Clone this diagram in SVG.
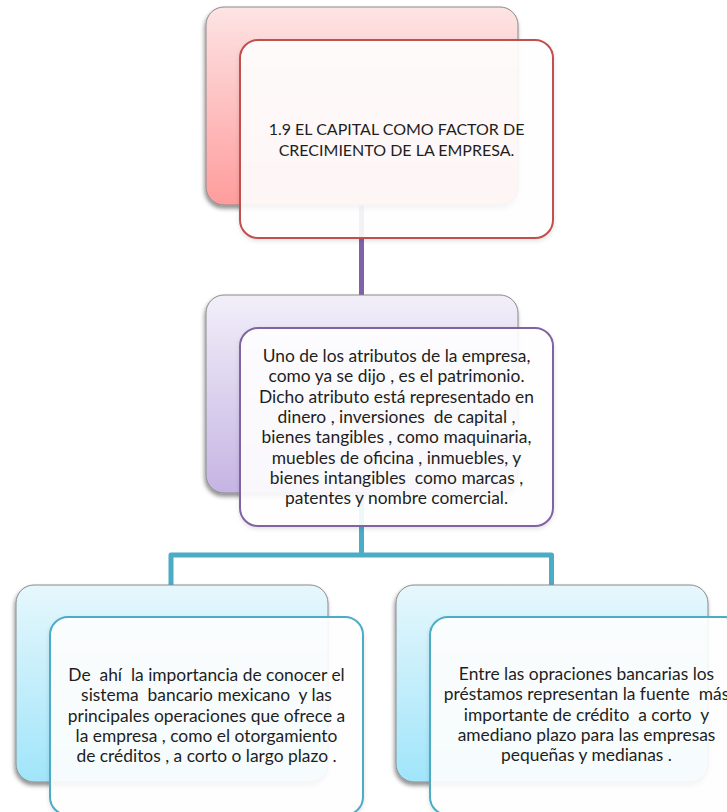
<svg xmlns="http://www.w3.org/2000/svg" width="727" height="812" viewBox="0 0 727 812">
<defs>
<linearGradient id="gRed" x1="0" y1="0" x2="0" y2="1">
<stop offset="0" stop-color="#fde4e4"/><stop offset="1" stop-color="#ff9c9c"/>
</linearGradient>
<linearGradient id="gPur" x1="0" y1="0" x2="0" y2="1">
<stop offset="0" stop-color="#f2eff9"/><stop offset="1" stop-color="#c5b4e3"/>
</linearGradient>
<linearGradient id="gCyan" x1="0" y1="0" x2="0" y2="1">
<stop offset="0" stop-color="#e6f7fc"/><stop offset="1" stop-color="#a0e5fa"/>
</linearGradient>
<filter id="sh" x="-10%" y="-10%" width="120%" height="125%">
<feDropShadow dx="-1" dy="3" stdDeviation="2" flood-color="#000" flood-opacity="0.45"/>
</filter>
<filter id="sh2" x="-10%" y="-10%" width="120%" height="125%">
<feDropShadow dx="0" dy="2" stdDeviation="2" flood-color="#000" flood-opacity="0.12"/>
</filter>
</defs>
<style>
.back{stroke:#8a8a8a;stroke-width:1;filter:url(#sh)}
.front{fill:#fff;fill-opacity:0.9;stroke-width:2;filter:url(#sh2)}
.t{font-family:Lato,"Liberation Sans",sans-serif;font-size:17.4px;fill:#1e1e1e;text-anchor:middle;white-space:pre}
.h{font-size:16px}
.conn{fill:none;stroke-width:5;stroke-linejoin:round}
</style>
<g id="connectors">
<line class="conn" x1="361.5" y1="205" x2="361.5" y2="296" stroke="#7f63a6"/>
<path class="conn" d="M361.5 493 V555 M171 585 V555 H551.5 V585" stroke="#4bacc6"/>
</g>
<g id="node-title">
<rect class="back" x="206" y="7" width="312" height="198" rx="18" fill="url(#gRed)"/>
<rect class="front" x="240" y="40" width="313" height="198" rx="18" stroke="#c0504d"/>
<text class="t h" x="396.5" y="135">1.9 EL CAPITAL COMO FACTOR DE</text>
<text class="t h" x="396.5" y="155.5">CRECIMIENTO DE LA EMPRESA.</text>
</g>
<g id="node-patrimonio">
<rect class="back" x="206" y="295" width="312" height="198" rx="18" fill="url(#gPur)"/>
<rect class="front" x="240" y="328" width="313" height="198" rx="18" stroke="#8064a2"/>
<text class="t" x="396.5" y="362">Uno de los atributos de la empresa,</text>
<text class="t" x="396.5" y="382.3">como ya se dijo , es el patrimonio.</text>
<text class="t" x="396.5" y="402.6">Dicho atributo está representado en</text>
<text class="t" x="396.5" y="422.9">dinero , inversiones  de capital ,</text>
<text class="t" x="396.5" y="443.2">bienes tangibles , como maquinaria,</text>
<text class="t" x="396.5" y="463.5">muebles de oficina , inmuebles, y</text>
<text class="t" x="396.5" y="483.8">bienes intangibles  como marcas ,</text>
<text class="t" x="396.5" y="504.1">patentes y nombre comercial.</text>
</g>
<g id="node-sistema">
<rect class="back" x="16" y="585" width="312" height="197" rx="18" fill="url(#gCyan)"/>
<rect class="front" x="50" y="617" width="313" height="198" rx="18" stroke="#4bacc6"/>
<text class="t" x="206.5" y="681">De  ahí  la importancia de conocer el</text>
<text class="t" x="206.5" y="701.3">sistema  bancario mexicano  y las</text>
<text class="t" x="206.5" y="721.6">principales operaciones que ofrece a</text>
<text class="t" x="206.5" y="741.9">la empresa , como el otorgamiento</text>
<text class="t" x="206.5" y="762.2">de créditos , a corto o largo plazo .</text>
</g>
<g id="node-prestamos">
<rect class="back" x="396" y="585" width="312" height="197" rx="18" fill="url(#gCyan)"/>
<rect class="front" x="430" y="617" width="313" height="198" rx="18" stroke="#4bacc6"/>
<text class="t" x="586.5" y="680">Entre las opraciones bancarias los</text>
<text class="t" x="586.5" y="700.3">préstamos representan la fuente  más</text>
<text class="t" x="586.5" y="720.6">importante de crédito  a corto  y</text>
<text class="t" x="586.5" y="740.9">amediano plazo para las empresas</text>
<text class="t" x="586.5" y="761.2">pequeñas y medianas .</text>
</g>
</svg>
